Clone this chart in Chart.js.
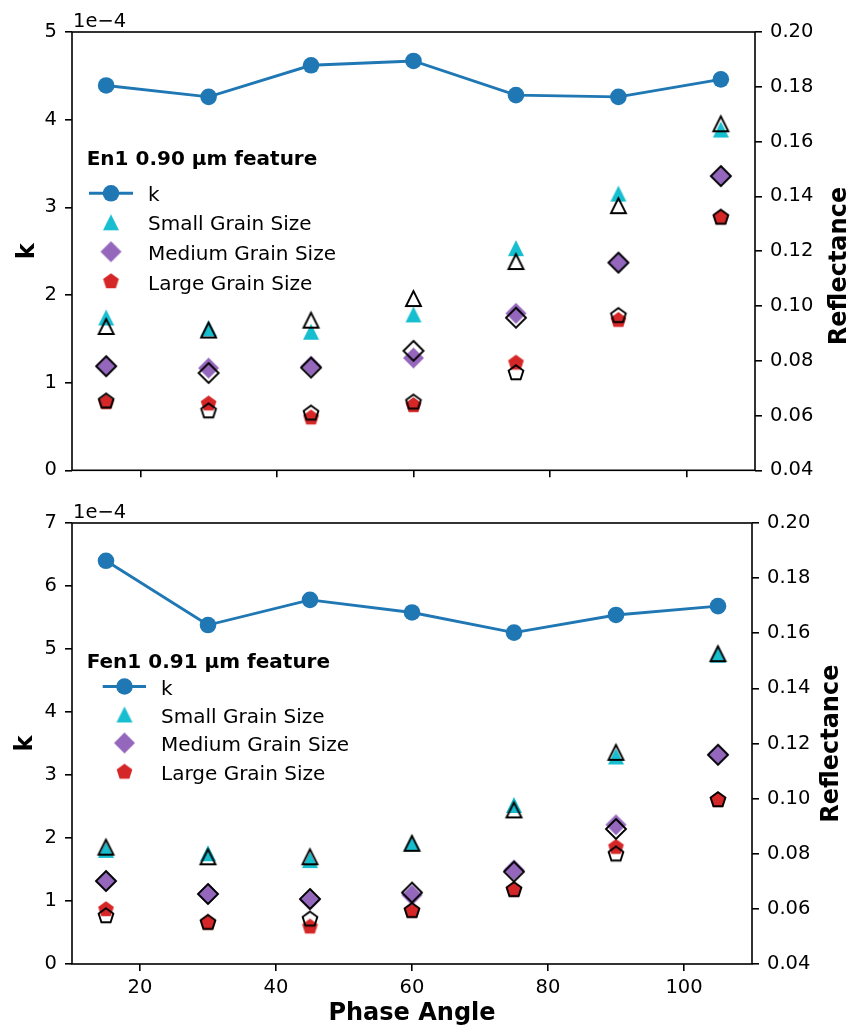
<!DOCTYPE html>
<html>
<head>
<meta charset="utf-8">
<script src="https://cdn.jsdelivr.net/npm/chart.js@4.4.0/dist/chart.umd.min.js"></script>
<style>
html, body { margin: 0; padding: 0; background: #ffffff; }
#wrap { position: relative; width: 857px; height: 1031px; overflow: hidden; }
canvas { position: absolute; left: 0; }
</style>
</head>
<body>
<div id="wrap">
  <canvas id="top" width="857" height="490" style="top:0px"></canvas>
  <canvas id="bot" width="857" height="541" style="top:490px"></canvas>
</div>
<script>
// ---------------- data ----------------
const phaseAngle = [15, 30, 45, 60, 75, 90, 105];
const xTicks = [20, 40, 60, 80, 100];
const reflTicks = [0.04, 0.06, 0.08, 0.10, 0.12, 0.14, 0.16, 0.18, 0.20];
const kTicksEn1 = [0, 1, 2, 3, 4, 5];
const kTicksFen1 = [0, 1, 2, 3, 4, 5, 6, 7];
const kOffsetLabel = '1e\u22124';

// En1 0.90 µm feature (k in units of 1e-4)
const kEn1 = [4.39, 4.26, 4.62, 4.67, 4.28, 4.26, 4.46];
const en1Small  = [0.0958, 0.0918, 0.0906, 0.0969, 0.1211, 0.1410, 0.1644];
const en1Medium = [0.0780, 0.0773, 0.0780, 0.0810, 0.0973, 0.1158, 0.1474];
const en1Large  = [0.0648, 0.0643, 0.0592, 0.0637, 0.0792, 0.0948, 0.1323];
const en1SmallOpen  = [0.0925, 0.0912, 0.0948, 0.1027, 0.1162, 0.1366, 0.1665];
const en1MediumOpen = [0.0780, 0.0755, 0.0775, 0.0836, 0.0957, 0.1158, 0.1474];
const en1LargeOpen  = [0.0652, 0.0616, 0.0608, 0.0648, 0.0755, 0.0964, 0.1323];

// Fen1 0.91 µm feature (k in units of 1e-4)
const kFen1 = [6.40, 5.38, 5.78, 5.58, 5.26, 5.54, 5.68];
const fen1Small  = [0.0814, 0.0802, 0.0777, 0.0838, 0.0977, 0.1153, 0.1522];
const fen1Medium = [0.0701, 0.0654, 0.0632, 0.0650, 0.0741, 0.0905, 0.1159];
const fen1Large  = [0.0598, 0.0550, 0.0535, 0.0593, 0.0669, 0.0824, 0.0995];
const fen1SmallOpen  = [0.0824, 0.0789, 0.0789, 0.0838, 0.0959, 0.1168, 0.1526];
const fen1MediumOpen = [0.0701, 0.0654, 0.0636, 0.0659, 0.0735, 0.0890, 0.1159];
const fen1LargeOpen  = [0.0574, 0.0550, 0.0562, 0.0593, 0.0669, 0.0798, 0.0995];

const legendLabels = ['k', 'Small Grain Size', 'Medium Grain Size', 'Large Grain Size'];

// ---------------- styling ----------------
const C_K = '#1f77b4', C_S = '#17becf', C_M = '#9467bd', C_L = '#d62728';
const FONT = '"DejaVu Sans", "Liberation Sans", sans-serif';

function marker(shape, size, fill, stroke, lw) {
  const pad = 3;
  const S = Math.ceil(size + 2 * pad);
  const c = document.createElement('canvas');
  c.width = S; c.height = S;
  const g = c.getContext('2d');
  const m = S / 2, h = size / 2;
  g.beginPath();
  if (shape === 'tri') {
    g.moveTo(m, m - h); g.lineTo(m - h, m + h); g.lineTo(m + h, m + h); g.closePath();
  } else if (shape === 'dia') {
    g.moveTo(m, m - h); g.lineTo(m + h, m); g.lineTo(m, m + h); g.lineTo(m - h, m); g.closePath();
  } else if (shape === 'pent') {
    for (let i = 0; i < 5; i++) {
      const a = -Math.PI / 2 + i * 2 * Math.PI / 5;
      const x = m + h * Math.cos(a), y = m + h * Math.sin(a);
      if (i === 0) g.moveTo(x, y); else g.lineTo(x, y);
    }
    g.closePath();
  }
  if (fill) { g.fillStyle = fill; g.fill(); }
  if (stroke) { g.strokeStyle = stroke; g.lineWidth = lw; g.lineJoin = 'miter'; g.stroke(); }
  return c;
}

const MK = {
  triF: marker('tri', 16, C_S, null, 0),
  diaF: marker('dia', 21, C_M, null, 0),
  penF: marker('pent', 16.5, C_L, null, 0),
  triO: marker('tri', 15, null, '#000', 1.9),
  diaO: marker('dia', 20, null, '#000', 1.9),
  penO: marker('pent', 15.5, null, '#000', 1.9)
};

function pts(arr) { return phaseAngle.map((x, i) => ({ x: x, y: arr[i] })); }

function build(id, g) {
  const datasets = [
    { label: 'open small', data: pts(g.sO), yAxisID: 'y2', pointStyle: MK.triO, pointRadius: 6, order: 0 },
    { label: 'open medium', data: pts(g.mO), yAxisID: 'y2', pointStyle: MK.diaO, pointRadius: 6, order: 0 },
    { label: 'open large', data: pts(g.lO), yAxisID: 'y2', pointStyle: MK.penO, pointRadius: 6, order: 0 },
    { label: legendLabels[1], data: pts(g.s), yAxisID: 'y2', pointStyle: MK.triF, pointRadius: 6, order: 1 },
    { label: legendLabels[2], data: pts(g.m), yAxisID: 'y2', pointStyle: MK.diaF, pointRadius: 6, order: 1 },
    { label: legendLabels[3], data: pts(g.l), yAxisID: 'y2', pointStyle: MK.penF, pointRadius: 6, order: 1 },
    { label: legendLabels[0], data: pts(g.k), yAxisID: 'y', showLine: true, borderColor: C_K, borderWidth: 2.9,
      pointStyle: 'circle', pointRadius: 8.3, pointBackgroundColor: C_K, pointBorderWidth: 0, order: 2 }
  ];
  const tickFont = { family: FONT, size: 19.5 };
  const gridOpt = { display: true, drawOnChartArea: false, drawTicks: true, tickLength: 7, color: '#000', lineWidth: 1.6 };

  const decor = {
    id: 'decor_' + id,
    afterDraw(chart) {
      const c = chart.ctx, a = chart.chartArea;
      c.save();
      c.strokeStyle = '#000'; c.lineWidth = 1.6;
      c.strokeRect(a.left, a.top, a.right - a.left, a.bottom - a.top);
      c.fillStyle = '#000';
      c.font = '19.5px ' + FONT; c.textAlign = 'left'; c.textBaseline = 'alphabetic';
      c.fillText(kOffsetLabel, a.left + 1, g.offBase);
      // right axis title
      c.save();
      c.font = 'bold 24px ' + FONT;
      c.translate(g.reflX, g.reflY); c.rotate(-Math.PI / 2);
      c.textAlign = 'center'; c.textBaseline = 'middle';
      c.fillText('Reflectance', 0, 0);
      c.restore();
      // legend
      const L = g.leg;
      c.font = 'bold 20px ' + FONT; c.textAlign = 'left'; c.textBaseline = 'alphabetic';
      c.fillText(g.title, L.titleX, L.titleBase);
      c.font = '20px ' + FONT;
      // k entry
      c.strokeStyle = C_K; c.lineWidth = 2.9;
      c.beginPath(); c.moveTo(L.x1, L.ys[0]); c.lineTo(L.x2, L.ys[0]); c.stroke();
      c.fillStyle = C_K; c.beginPath(); c.arc(L.mx, L.ys[0], 8.3, 0, Math.PI * 2); c.fill();
      const imgs = [null, MK.triF, MK.diaF, MK.penF];
      for (let i = 1; i < 4; i++) {
        const im = imgs[i];
        c.drawImage(im, L.mx - im.width / 2, L.ys[i] - im.height / 2);
      }
      c.fillStyle = '#000';
      for (let i = 0; i < 4; i++) c.fillText(legendLabels[i], L.textX, L.ys[i] + 8);
      c.restore();
    }
  };

  return new Chart(document.getElementById(id), {
    type: 'scatter',
    data: { datasets: datasets },
    plugins: [decor],
    options: {
      responsive: false,
      animation: false,
      devicePixelRatio: 1,
      events: [],
      layout: { padding: { top: g.area.top, left: 0, right: 0, bottom: 0 } },
      plugins: { legend: { display: false }, tooltip: { enabled: false } },
      scales: {
        x: {
          type: 'linear', position: 'bottom', min: 10, max: 110,
          afterBuildTicks: s => { s.ticks = xTicks.map(v => ({ value: v })); },
          afterFit: s => { s.height = g.h - g.area.bottom; },
          grid: gridOpt, border: { display: false },
          ticks: { display: g.xLabels, font: tickFont, color: '#000', padding: 5, maxRotation: 0,
                   callback: v => String(v) },
          title: { display: g.xLabels, text: 'Phase Angle', color: '#000',
                   font: { family: FONT, size: 24, weight: 'bold' }, padding: { top: 0, bottom: 2.6 } }
        },
        y: {
          type: 'linear', position: 'left', min: 0, max: g.kMax,
          afterBuildTicks: s => { s.ticks = g.kTicks.map(v => ({ value: v })); },
          afterFit: s => { s.width = g.area.left; },
          grid: gridOpt, border: { display: false },
          ticks: { font: tickFont, color: '#000', padding: 8, callback: v => String(v) },
          title: { display: true, text: 'k', color: '#000',
                   font: { family: FONT, size: 24, weight: 'bold' }, padding: { top: g.kTitlePad, bottom: 0 } }
        },
        y2: {
          type: 'linear', position: 'right', min: 0.04, max: 0.20,
          afterBuildTicks: s => { s.ticks = reflTicks.map(v => ({ value: v })); },
          afterFit: s => { s.width = 857 - g.area.right; },
          grid: gridOpt, border: { display: false },
          ticks: { font: tickFont, color: '#000', padding: 8, callback: v => Number(v).toFixed(2) }
        }
      }
    }
  });
}

build('top', {
  h: 490, area: { left: 72, top: 32, right: 755, bottom: 473 },
  kMax: 5, kTicks: kTicksEn1, k: kEn1,
  s: en1Small, m: en1Medium, l: en1Large, sO: en1SmallOpen, mO: en1MediumOpen, lO: en1LargeOpen,
  xLabels: false, kTitlePad: 13, offBase: 27, reflX: 840, reflY: 266,
  title: 'En1 0.90 \u00b5m feature',
  leg: { titleX: 86.7, titleBase: 165, x1: 89, x2: 133, mx: 111, textX: 148, ys: [193.3, 222.3, 251.7, 281.5] }
});

build('bot', {
  h: 541, area: { left: 72, top: 33, right: 752, bottom: 474 },
  kMax: 7, kTicks: kTicksFen1, k: kFen1,
  s: fen1Small, m: fen1Medium, l: fen1Large, sO: fen1SmallOpen, mO: fen1MediumOpen, lO: fen1LargeOpen,
  xLabels: true, kTitlePad: 11.5, offBase: 28.3, reflX: 831.5, reflY: 253.7,
  title: 'Fen1 0.91 \u00b5m feature',
  leg: { titleX: 86.7, titleBase: 178.3, x1: 102.7, x2: 146, mx: 124.5, textX: 161, ys: [196.5, 224.5, 253, 282] }
});
</script>
</body>
</html>
